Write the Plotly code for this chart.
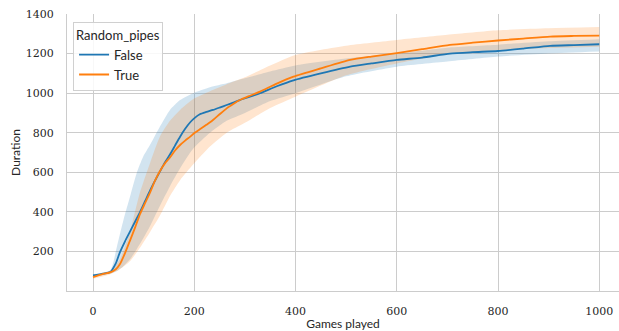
import plotly.graph_objects as go

# ---- data ----
false_x = [0, 20, 34, 45, 53, 63, 73, 83, 93, 103, 113, 122, 132, 142, 152, 162, 172, 182, 192, 201, 211, 224, 237, 250, 264, 277, 290, 310, 330, 363, 396, 450, 508, 550, 600, 650, 705, 750, 800, 850, 903, 950, 1000]
false_y = [79, 88, 96, 140, 195, 250, 300, 350, 400, 455, 510, 555, 603, 650, 690, 735, 780, 820, 853, 875, 893, 905, 915, 927, 940, 952, 965, 982, 1000, 1035, 1065, 1100, 1134, 1150, 1168, 1180, 1200, 1207, 1213, 1225, 1239, 1243, 1247]

true_x = [0, 20, 34, 45, 53, 63, 73, 83, 93, 103, 113, 122, 132, 142, 152, 162, 172, 182, 192, 201, 211, 224, 237, 250, 264, 277, 290, 310, 330, 363, 396, 450, 508, 550, 600, 650, 705, 750, 800, 850, 903, 950, 1000]
true_y = [70, 86, 94, 110, 135, 190, 255, 320, 390, 445, 500, 555, 605, 645, 675, 710, 738, 760, 780, 800, 817, 840, 864, 893, 923, 945, 965, 987, 1008, 1048, 1083, 1125, 1168, 1185, 1202, 1222, 1244, 1255, 1266, 1276, 1286, 1289, 1291]

false_band_x = [0, 34, 47, 60, 73, 86, 99, 113, 132, 152, 172, 198, 231, 264, 300, 350, 400, 500, 600, 700, 800, 900, 1000]
false_upper = [85, 105, 223, 358, 476, 594, 678, 740, 830, 915, 965, 1000, 1030, 1050, 1075, 1110, 1140, 1175, 1200, 1230, 1245, 1262, 1273]
false_lower = [72, 88, 100, 125, 160, 210, 265, 330, 430, 530, 620, 720, 800, 860, 900, 960, 1000, 1085, 1134, 1160, 1185, 1200, 1210]

true_band_x = [0, 34, 53, 73, 93, 113, 132, 152, 172, 198, 231, 264, 300, 350, 400, 500, 600, 700, 800, 900, 1000]
true_upper = [76, 100, 160, 300, 500, 650, 780, 860, 915, 970, 1010, 1045, 1080, 1140, 1193, 1240, 1269, 1295, 1318, 1328, 1334]
true_lower = [62, 85, 110, 150, 220, 300, 380, 480, 560, 640, 730, 800, 850, 925, 982, 1090, 1150, 1195, 1215, 1228, 1235]

x_ticks = [0, 200, 400, 600, 800, 1000]
y_ticks = [200, 400, 600, 800, 1000, 1200, 1400]

BLUE = "#1f77b4"
ORANGE = "#ff7f0e"
SANS = "Lato"
SERIF = "DejaVu Serif"
TXT = "#262626"

fig = go.Figure()

SM = 0.6
# bands
fig.add_trace(go.Scatter(x=false_band_x, y=false_lower, mode="lines",
                         line=dict(width=0, shape="spline", smoothing=SM),
                         showlegend=False, hoverinfo="skip"))
fig.add_trace(go.Scatter(x=false_band_x, y=false_upper, mode="lines",
                         line=dict(width=0, shape="spline", smoothing=SM),
                         fill="tonexty", fillcolor="rgba(31,119,180,0.2)",
                         showlegend=False, hoverinfo="skip"))
fig.add_trace(go.Scatter(x=true_band_x, y=true_lower, mode="lines",
                         line=dict(width=0, shape="spline", smoothing=SM),
                         showlegend=False, hoverinfo="skip"))
fig.add_trace(go.Scatter(x=true_band_x, y=true_upper, mode="lines",
                         line=dict(width=0, shape="spline", smoothing=SM),
                         fill="tonexty", fillcolor="rgba(255,127,14,0.2)",
                         showlegend=False, hoverinfo="skip"))

# mean lines
fig.add_trace(go.Scatter(x=false_x, y=false_y, mode="lines", name="False",
                         line=dict(color=BLUE, width=1.8, shape="spline", smoothing=SM)))
fig.add_trace(go.Scatter(x=true_x, y=true_y, mode="lines", name="True",
                         line=dict(color=ORANGE, width=1.8, shape="spline", smoothing=SM)))

fig.update_layout(
    width=619, height=331,
    margin=dict(l=67, r=0, t=14, b=40),
    paper_bgcolor="white", plot_bgcolor="white",
    legend=dict(
        title=dict(text="Random_pipes", font=dict(family=SANS, size=13, color=TXT)),
        font=dict(family=SANS, size=13, color=TXT),
        x=0.011, y=0.972, xanchor="left", yanchor="top",
        bordercolor="#d0d0d0", borderwidth=1, bgcolor="rgba(255,255,255,0.85)",
        itemwidth=30, tracegroupgap=0, traceorder="normal",
    ),
)

fig.update_xaxes(
    range=[-51.4, 1039], tickvals=x_ticks, ticktext=[str(v) for v in x_ticks],
    showgrid=True, gridcolor="#cccccc", gridwidth=1,
    showline=True, linecolor="#cccccc", linewidth=1, mirror=False,
    zeroline=False, ticks="", ticklabelstandoff=10,
    tickfont=dict(family=SERIF, size=11, color=TXT),
    title=dict(text="Games played", font=dict(family=SANS, size=12, color=TXT), standoff=4),
)
fig.update_yaxes(
    range=[0, 1400], tickvals=y_ticks, ticktext=[str(v) for v in y_ticks],
    showgrid=True, gridcolor="#cccccc", gridwidth=1,
    showline=True, linecolor="#cccccc", linewidth=1, mirror=False,
    zeroline=False, ticks="", ticklabelstandoff=10,
    tickfont=dict(family=SERIF, size=11, color=TXT),
    title=dict(text="Duration", font=dict(family=SANS, size=12, color=TXT), standoff=2),
)

fig.write_html("out.html")
